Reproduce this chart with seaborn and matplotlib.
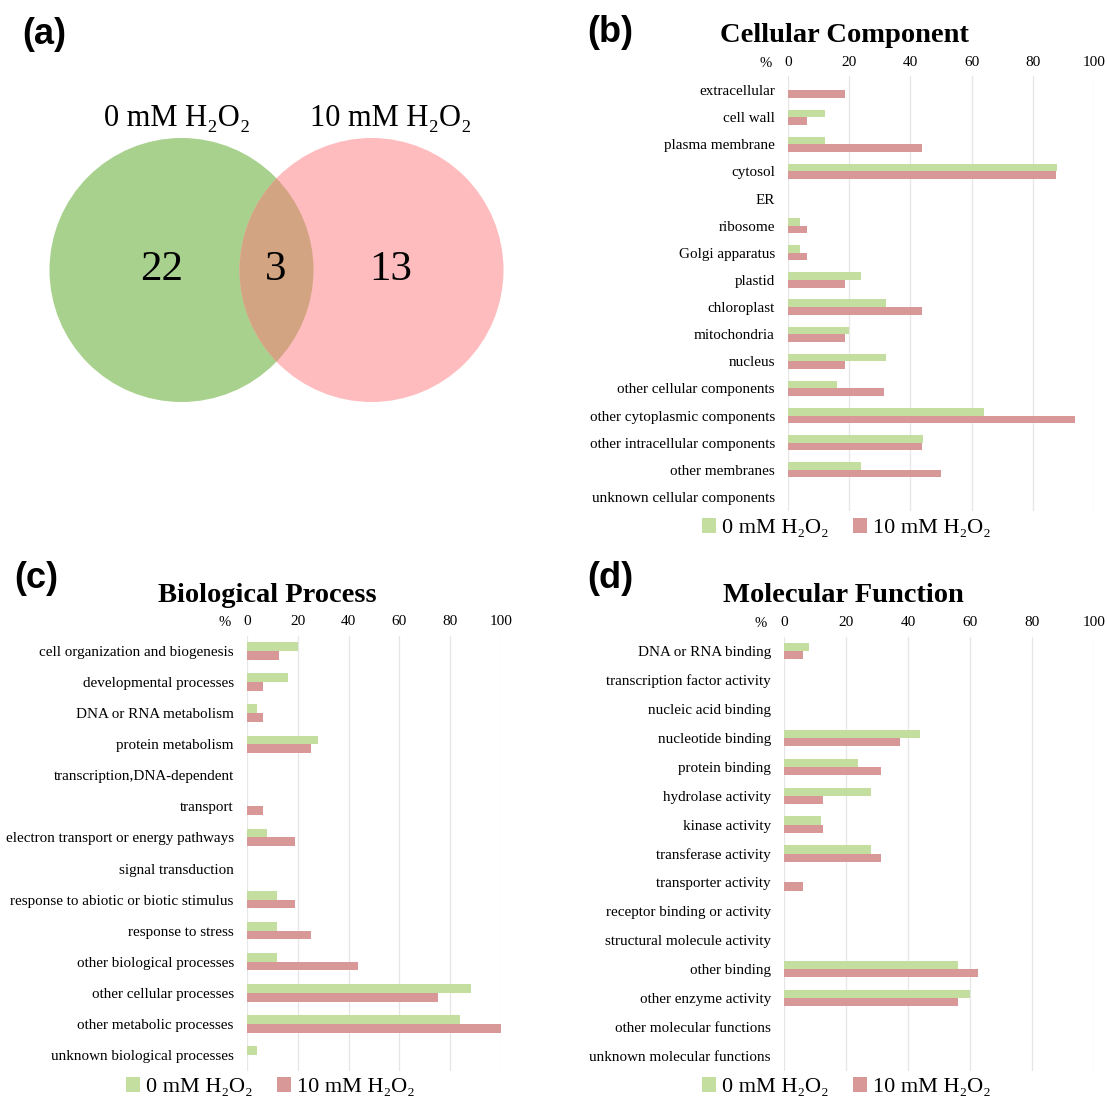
import numpy as np
import pandas as pd
import matplotlib
matplotlib.use("Agg")
import matplotlib.pyplot as plt
from matplotlib.patches import Circle, Patch
import seaborn as sns

# ---------------- data ----------------
conditions = ["0 mM H\u2082O\u2082", "10 mM H\u2082O\u2082"]
venn_counts = [22, 3, 13]  # only 0 mM, shared, only 10 mM

cc_categories = ["extracellular", "cell wall", "plasma membrane", "cytosol", "ER",
                 "ribosome", "Golgi apparatus", "plastid", "chloroplast", "mitochondria",
                 "nucleus", "other cellular components", "other cytoplasmic components",
                 "other intracellular components", "other membranes",
                 "unknown cellular components"]
cc_0mM = [0, 12, 12, 88, 0, 4, 4, 24, 32, 20, 32, 16, 64, 44, 24, 0]
cc_10mM = [18.75, 6.25, 43.75, 87.5, 0, 6.25, 6.25, 18.75, 43.75, 18.75, 18.75,
           31.25, 93.75, 43.75, 50, 0]

bp_categories = ["cell organization and biogenesis", "developmental processes",
                 "DNA or RNA metabolism", "protein metabolism",
                 "transcription,DNA-dependent", "transport",
                 "electron transport or energy pathways", "signal transduction",
                 "response to abiotic or biotic stimulus", "response to stress",
                 "other biological processes", "other cellular processes",
                 "other metabolic processes", "unknown biological processes"]
bp_0mM = [20, 16, 4, 28, 0, 0, 8, 0, 12, 12, 12, 88, 84, 4]
bp_10mM = [12.5, 6.25, 6.25, 25, 0, 6.25, 18.75, 0, 18.75, 25, 43.75, 75, 100, 0]

mf_categories = ["DNA or RNA binding", "transcription factor activity",
                 "nucleic acid binding", "nucleotide binding", "protein binding",
                 "hydrolase activity", "kinase activity", "transferase activity",
                 "transporter activity", "receptor binding or activity",
                 "structural molecule activity", "other binding",
                 "other enzyme activity", "other molecular functions",
                 "unknown molecular functions"]
mf_0mM = [8, 0, 0, 44, 24, 28, 12, 28, 0, 0, 0, 56, 60, 0, 0]
mf_10mM = [6.25, 0, 0, 37.5, 31.25, 12.5, 12.5, 31.25, 6.25, 0, 0, 62.5, 56.25, 0, 0]

x_ticks = [0, 20, 40, 60, 80, 100]

# ---------------- style ----------------
sns.set_theme(style="white")
SERIF = ["Liberation Serif", "DejaVu Serif"]
SANS = ["Liberation Sans", "DejaVu Sans"]
plt.rcParams["font.family"] = SERIF
plt.rcParams["text.color"] = "black"
plt.rcParams["xtick.color"] = "black"
plt.rcParams["ytick.color"] = "black"

GREEN_BAR = "#c4dea0"
RED_BAR = "#d99898"
GREEN_VENN = "#a8d18d"
PINK_VENN = "#ffbcbf"
OVERLAP_VENN = "#d3a482"

W, H = 1107, 1097
fig = plt.figure(figsize=(W / 100, H / 100), dpi=100)


def px_rect(x0, y0, x1, y1):
    return [x0 / W, 1 - y1 / H, (x1 - x0) / W, (y1 - y0) / H]


def fx(x):
    return x / W


def fy(y):
    return 1 - y / H


# ---------------- (a) Venn diagram ----------------
ax_a = fig.add_axes(px_rect(0, 0, 560, 560))
ax_a.set_xlim(0, 560)
ax_a.set_ylim(560, 0)
ax_a.set_axis_off()
r = 132
c_green = (181.5, 270)
c_pink = (371.5, 270)
ax_a.add_patch(Circle(c_green, r, facecolor=GREEN_VENN, edgecolor="none", zorder=1))
ax_a.add_patch(Circle(c_pink, r, facecolor=PINK_VENN, edgecolor="none", zorder=2))
clip = Circle(c_green, r, transform=ax_a.transData)
ov = Circle(c_pink, r, facecolor=OVERLAP_VENN, edgecolor="none", zorder=3)
ax_a.add_patch(ov)
ov.set_clip_path(clip)
ax_a.text(177.5, 118, conditions[0], ha="center", va="center", fontsize=22, family=SERIF)
ax_a.text(391, 118, conditions[1], ha="center", va="center", fontsize=22, family=SERIF)
for xpos, n in zip([162, 276, 391], venn_counts):
    ax_a.text(xpos, 270, str(n), ha="center", va="center", fontsize=31,
              family=SERIF, zorder=5)


# ---------------- bar panels ----------------
def bar_panel(rect, cats, v0, v1, title, title_xy, pct_x, legend_xy):
    ax = fig.add_axes(rect)
    df = pd.DataFrame({
        "category": cats * 2,
        "value": list(v0) + list(v1),
        "condition": [conditions[0]] * len(cats) + [conditions[1]] * len(cats),
    })
    sns.barplot(data=df, y="category", x="value", hue="condition", orient="h",
                palette=[GREEN_BAR, RED_BAR], saturation=1, width=0.56,
                order=cats, hue_order=conditions, ax=ax, legend=False,
                edgecolor="none", linewidth=0)
    ax.set_xlim(0, 100)
    ax.set_ylim(len(cats) - 0.5, -0.5)
    ax.xaxis.tick_top()
    ax.set_xticks(x_ticks)
    ax.set_xticklabels([str(t) for t in x_ticks], fontsize=11, family=SERIF)
    ax.tick_params(axis="x", length=0, pad=5.5)
    ax.tick_params(axis="y", length=0, pad=9.5, labelsize=10.9)
    for lab in ax.get_yticklabels():
        lab.set_family(SERIF)
    ax.set_xlabel("")
    ax.set_ylabel("")
    ax.grid(axis="x", color="#e6e6e6", linewidth=0.9)
    ax.grid(axis="y", visible=False)
    ax.set_axisbelow(True)
    for s in ax.spines.values():
        s.set_visible(False)
    ax.set_facecolor("white")
    top_px = (1 - (rect[1] + rect[3])) * H
    fig.text(fx(pct_x), fy(top_px - 13), "%", ha="right", va="center",
             fontsize=10.5, family=SERIF)
    fig.text(fx(title_xy[0]), fy(title_xy[1]), title, ha="center", va="center",
             fontsize=20.5, fontweight="bold", family=SERIF)
    handles = [Patch(facecolor=GREEN_BAR, edgecolor="none"),
               Patch(facecolor=RED_BAR, edgecolor="none")]
    fig.legend(handles, conditions, loc="center",
               bbox_to_anchor=(fx(legend_xy[0]), fy(legend_xy[1])),
               ncol=2, frameon=False, prop={"family": SERIF, "size": 16},
               handlelength=0.65, handleheight=0.65, handletextpad=0.25,
               columnspacing=1.1, borderpad=0)
    return ax


bar_panel(px_rect(788, 76.4, 1094, 510.6), cc_categories, cc_0mM, cc_10mM,
          "Cellular Component", (844, 36), 772, (846, 528))
bar_panel(px_rect(247, 635.5, 501, 1070.5), bp_categories, bp_0mM, bp_10mM,
          "Biological Process", (267, 596), 231, (270, 1087))
bar_panel(px_rect(784, 636.5, 1094, 1070.5), mf_categories, mf_0mM, mf_10mM,
          "Molecular Function", (843, 596), 767, (846, 1087))

# ---------------- panel letters ----------------
for letter, (x, y) in zip(["(a)", "(b)", "(c)", "(d)"],
                          [(44, 35), (610, 33), (36, 578), (610, 578)]):
    fig.text(fx(x), fy(y), letter, ha="center", va="center", fontsize=26,
             fontweight="bold", family=SANS)

fig.savefig("out.png", dpi=100, facecolor="white")
